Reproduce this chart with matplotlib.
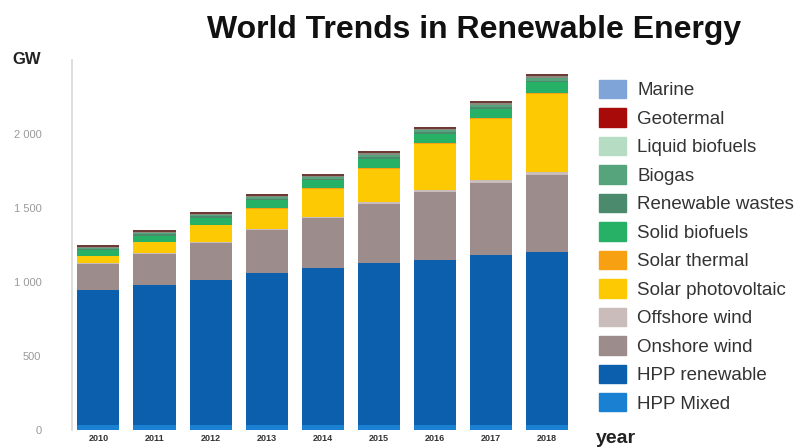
import numpy as np
import matplotlib
matplotlib.use("Agg")
import matplotlib.pyplot as plt
from matplotlib.ticker import FuncFormatter

plt.rcParams['font.family'] = ['Liberation Sans', 'DejaVu Sans']

years = ['2010', '2011', '2012', '2013', '2014', '2015', '2016', '2017', '2018']

# GW, stacked bottom to top
hpp_mixed = [33, 34, 34, 35, 35, 36, 36, 37, 37]
hpp_renewable = [913, 946, 980, 1026, 1060, 1092, 1113, 1145, 1166]
onshore_wind = [179, 212, 251, 290, 336, 401, 459, 488, 517]
offshore_wind = [3, 4, 5, 7, 8, 12, 14, 19, 23]
solar_pv = [47, 72, 112, 138, 191, 224, 312, 414, 528]
solar_thermal = [1, 2, 3, 4, 5, 5, 5, 5, 6]
solid_biofuels = [38, 43, 48, 52, 52, 62, 62, 62, 71]
renewable_wastes = [8, 9, 10, 10, 11, 12, 12, 12, 13]
biogas = [8, 9, 10, 12, 11, 14, 14, 14, 17]
liquid_biofuels = [8, 8, 8, 10, 10, 12, 9, 12, 12]
geothermal = [11, 11, 11, 12, 12, 13, 13, 14, 14]
marine = [0.5, 0.5, 0.5, 0.5, 0.5, 0.5, 0.5, 0.5, 0.5]

series = [
    ('HPP Mixed', hpp_mixed, '#1a80d2'),
    ('HPP renewable', hpp_renewable, '#0b5fad'),
    ('Onshore wind', onshore_wind, '#9c8c8c'),
    ('Offshore wind', offshore_wind, '#cbbcbc'),
    ('Solar photovoltaic', solar_pv, '#fdc902'),
    ('Solar thermal', solar_thermal, '#f6a012'),
    ('Solid biofuels', solid_biofuels, '#27b167'),
    ('Renewable wastes', renewable_wastes, '#4c8a6e'),
    ('Biogas', biogas, '#55a47c'),
    ('Liquid biofuels', liquid_biofuels, '#b7dcc4'),
    ('Geotermal', geothermal, '#a80a0a'),
    ('Marine', marine, '#7fa5d8'),
]
# the thin top slices look darker/greyer in the bars than in the legend
bar_colors = {'Geotermal': '#6e3a36', 'Liquid biofuels': '#8a8a80'}

fig = plt.figure(figsize=(8.08, 4.48), dpi=100)
ax = fig.add_axes([72 / 808, 18 / 448, 510 / 808, 370 / 448])

x = np.arange(len(years))
bottom = np.zeros(len(years))
handles = []
for name, vals, col in series:
    ax.bar(x, vals, bottom=bottom, width=0.75, color=bar_colors.get(name, col), linewidth=0)
    handles.append(plt.Rectangle((0, 0), 1, 1, color=col))
    bottom += np.array(vals)

ax.set_ylim(0, 2500)
ax.set_xlim(-0.47, 8.62)
ax.set_yticks([0, 500, 1000, 1500, 2000])
ax.yaxis.set_major_formatter(FuncFormatter(lambda v, p: f'{int(v):,}'.replace(',', ' ')))
ax.set_xticks(x)
ax.set_xticklabels(years, fontsize=6.5, fontweight='bold', color='#333333')
ax.tick_params(axis='y', length=0, labelsize=8, labelcolor='#9a9a9a', pad=22)
ax.tick_params(axis='x', length=0, pad=3)
for s in ['top', 'right', 'bottom']:
    ax.spines[s].set_visible(False)
ax.spines['left'].set_color('#d8d8d8')
ax.spines['left'].set_linewidth(1.2)

fig.text(474 / 808, 1 - 30 / 448, 'World Trends in Renewable Energy', ha='center', va='center',
         fontsize=23, fontweight='bold', color='#111111')
fig.text(12 / 808, 1 - 59 / 448, 'GW', ha='left', va='center', fontsize=12,
         fontweight='bold', color='#222222')
fig.text(596 / 808, 1 - 438 / 448, 'year', ha='left', va='center', fontsize=14,
         fontweight='bold', color='#222222')

fig.legend(handles[::-1], [s[0] for s in series][::-1], loc='upper left',
           bbox_to_anchor=(582 / 808, 1 - 63 / 448), frameon=False,
           fontsize=13.5, handlelength=1.44, handleheight=1.12, labelspacing=0.48,
           handletextpad=0.6, borderpad=0.4, labelcolor='#333333')

fig.savefig('out.png', dpi=100)
